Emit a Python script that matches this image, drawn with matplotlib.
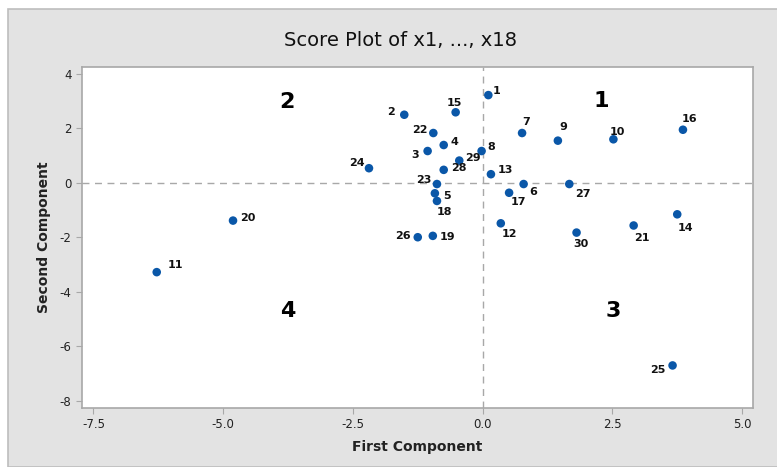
import numpy as np
import matplotlib.pyplot as plt
from matplotlib.patches import Rectangle

plt.rcParams['axes.unicode_minus'] = False

# scores
obs = [str(i) for i in range(1, 31)]
first = [0.11, -1.51, -1.06, -0.75, -0.92, 0.79, 0.76, -0.02, 1.45, 2.52,
         -6.28, 0.35, 0.16, 3.75, -0.52, 3.86, 0.51, -0.88, -0.96, -4.81,
         2.91, -0.95, -0.88, -2.19, 3.66, -1.25, 1.67, -0.75, -0.45, 1.81]
second = [3.21, 2.49, 1.16, 1.38, -0.39, -0.05, 1.82, 1.16, 1.54, 1.59,
          -3.28, -1.49, 0.31, -1.16, 2.58, 1.94, -0.37, -0.67, -1.95, -1.39,
          -1.57, 1.82, -0.05, 0.53, -6.70, -2.00, -0.05, 0.47, 0.81, -1.83]

# label offsets (points) and alignment per observation
offs = {
    '1': (3, 3, 'left'), '2': (-7, 2, 'right'), '3': (-6, -3, 'right'),
    '4': (5, 2, 'left'), '5': (6, -2, 'left'), '6': (4, -6, 'left'),
    '7': (0, 8, 'left'), '8': (4, 3, 'left'), '9': (1, 10, 'left'),
    '10': (-3, 5, 'left'), '11': (8, 5, 'left'), '12': (1, -8, 'left'),
    '13': (5, 3, 'left'), '14': (0, -10, 'left'), '15': (-1, 7, 'center'),
    '16': (-1, 8, 'left'), '17': (1, -7, 'left'), '18': (0, -8, 'left'),
    '19': (5, -1, 'left'), '20': (5, 2, 'left'), '21': (0, -9, 'left'),
    '22': (-4, 2, 'right'), '23': (-4, 3, 'right'), '24': (-3, 4, 'right'),
    '25': (-5, -3, 'right'), '26': (-5, 1, 'right'), '27': (4, -7, 'left'),
    '28': (5, 1, 'left'), '29': (4, 2, 'left'), '30': (-2, -8, 'left'),
}

quad_names = ['1', '2', '3', '4']
quad_x = [2.28, -3.78, 2.51, -3.75]
quad_y = [2.99, 2.95, -4.7, -4.7]

fig = plt.figure(figsize=(7.77, 4.67), dpi=100)
fig.patch.set_facecolor('white')
fig.patches.append(Rectangle((8 / 777, 0), 1, 1 - 9 / 467, transform=fig.transFigure,
                             facecolor='#e3e3e3', edgecolor='#bdbdbd', linewidth=1.2,
                             zorder=-10))

ax = fig.add_axes([82 / 777, 1 - 408 / 467, (753 - 82) / 777, (408 - 67) / 467])
ax.set_facecolor('white')

ax.axhline(0, color='#a8a8a8', ls=(0, (5, 4)), lw=1, zorder=1)
ax.axvline(0, color='#a8a8a8', ls=(0, (5, 4)), lw=1, zorder=1)

ax.scatter(first, second, s=38, color='#0a57a8', zorder=3, edgecolors='none')

for name, x, y in zip(obs, first, second):
    dx, dy, ha = offs[name]
    ax.annotate(name, (x, y), xytext=(dx, dy), textcoords='offset points',
                ha=ha, va='center', fontsize=8, fontweight='bold', color='#111111')

for name, x, y in zip(quad_names, quad_x, quad_y):
    ax.text(x, y, name, fontsize=16, fontweight='bold', ha='center', va='center')

ax.set_xlim(-7.72, 5.21)
ax.set_ylim(-8.26, 4.24)
ax.set_xticks([-7.5, -5.0, -2.5, 0.0, 2.5, 5.0])
ax.set_xticklabels(['-7.5', '-5.0', '-2.5', '0.0', '2.5', '5.0'])
ax.set_yticks([4, 2, 0, -2, -4, -6, -8])

for sp in ax.spines.values():
    sp.set_color('#a8a8a8')
    sp.set_linewidth(1.2)
ax.tick_params(colors='#a8a8a8', labelcolor='#222222', labelsize=8.5, length=4)

ax.set_xlabel('First Component', fontsize=10, fontweight='bold', color='#222222', labelpad=6)
ax.set_ylabel('Second Component', fontsize=10, fontweight='bold', color='#222222', labelpad=6)
fig.text(400 / 777, 1 - 40 / 467, 'Score Plot of x1, ..., x18', ha='center', va='center',
         fontsize=14, color='#111111')

fig.savefig('out.png', dpi=100, facecolor=fig.get_facecolor())
